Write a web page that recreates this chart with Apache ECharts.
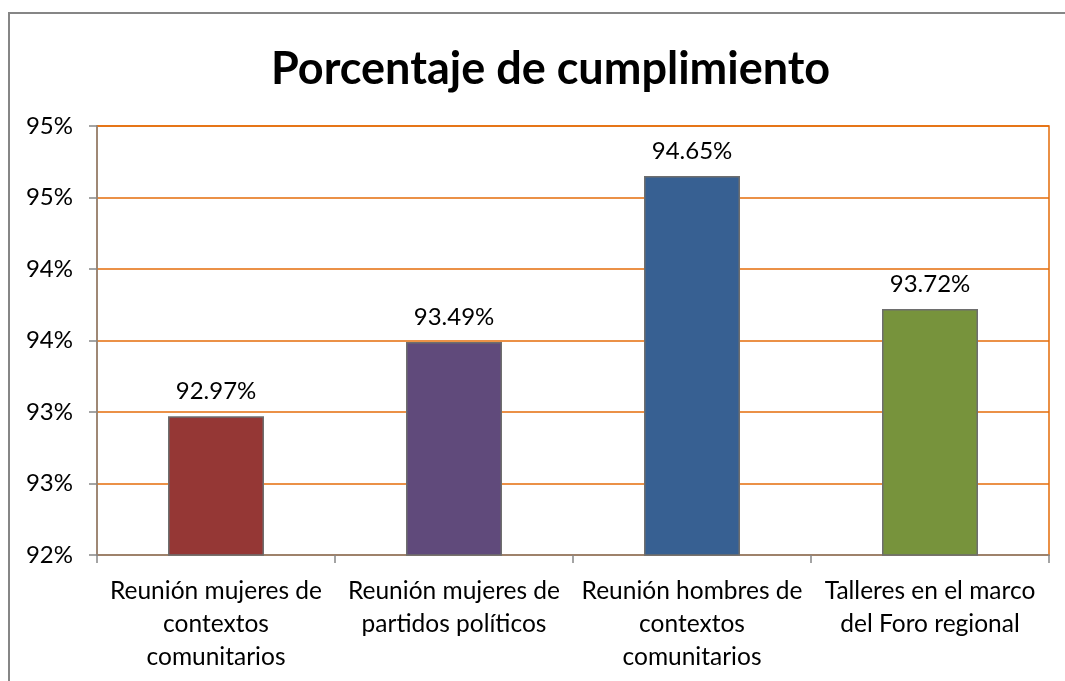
<!DOCTYPE html>
<html>
<head>
<meta charset="utf-8">
<script src="https://cdn.jsdelivr.net/npm/echarts@6/dist/echarts.min.js"></script>
<style>
  html, body { margin: 0; padding: 0; background: #fff; }
  #chart { width: 1065px; height: 681px; }
</style>
</head>
<body>
<div id="chart"></div>
<script>
const categories = [
  'Reunión mujeres de\ncontextos\ncomunitarios',
  'Reunión mujeres de\npartidos políticos',
  'Reunión hombres de\ncontextos\ncomunitarios',
  'Talleres en el marco\ndel Foro regional'
]
const values = [92.97, 93.49, 94.65, 93.72]
const barColors = ['#953735', '#604A7B', '#376092', '#77933C']

const font = 'Lato, "Open Sans", sans-serif'
const chart = echarts.init(document.getElementById('chart'))

chart.setOption({
  animation: false,
  title: {
    text: 'Porcentaje de cumplimiento',
    left: 266,
    top: 42,
    textStyle: { fontFamily: font, fontSize: 45, fontWeight: 'bold', color: '#000' },
  },
  graphic: [
    {
      type: 'rect',
      shape: { x: 9, y: 13, width: 1200, height: 800 },
      style: { fill: 'none', stroke: '#868686', lineWidth: 2 },
      silent: true,
    },
  ],
  grid: {
    left: 97,
    right: 16,
    top: 126,
    bottom: 126,
    show: true,
    borderColor: '#E46C0A',
    borderWidth: 1.5,
  },
  xAxis: {
    type: 'category',
    data: categories,
    axisLine: { lineStyle: { color: '#868686', width: 1.5 } },
    axisTick: { show: true, length: 8, lineStyle: { color: '#868686', width: 1.5 } },
    axisLabel: {
      color: '#000',
      fontFamily: font,
      fontSize: 24.5,
      lineHeight: 33,
      margin: 20,
      interval: 0,
    },
  },
  yAxis: {
    type: 'value',
    min: 92,
    max: 95,
    interval: 0.5,
    axisLine: { show: true, lineStyle: { color: '#868686', width: 1.5 } },
    axisTick: { show: true, length: 8, lineStyle: { color: '#868686', width: 1.5 } },
    splitLine: { lineStyle: { color: '#E46C0A', width: 1.5 } },
    axisLabel: {
      color: '#000',
      fontFamily: font,
      fontSize: 24,
      margin: 24,
      formatter: (v) => Math.round(v) + '%',
    },
  },
  series: [
    {
      type: 'bar',
      barWidth: 96,
      data: values.map((v, i) => ({
        value: v,
        itemStyle: { color: barColors[i] },
      })),
      itemStyle: { borderColor: '#6e6e6e', borderWidth: 1.5 },
      label: {
        show: true,
        position: 'top',
        distance: 13,
        color: '#000',
        fontFamily: font,
        fontSize: 24,
        formatter: (p) => p.value.toFixed(2) + '%',
      },
    },
  ],
})
</script>
</body>
</html>
